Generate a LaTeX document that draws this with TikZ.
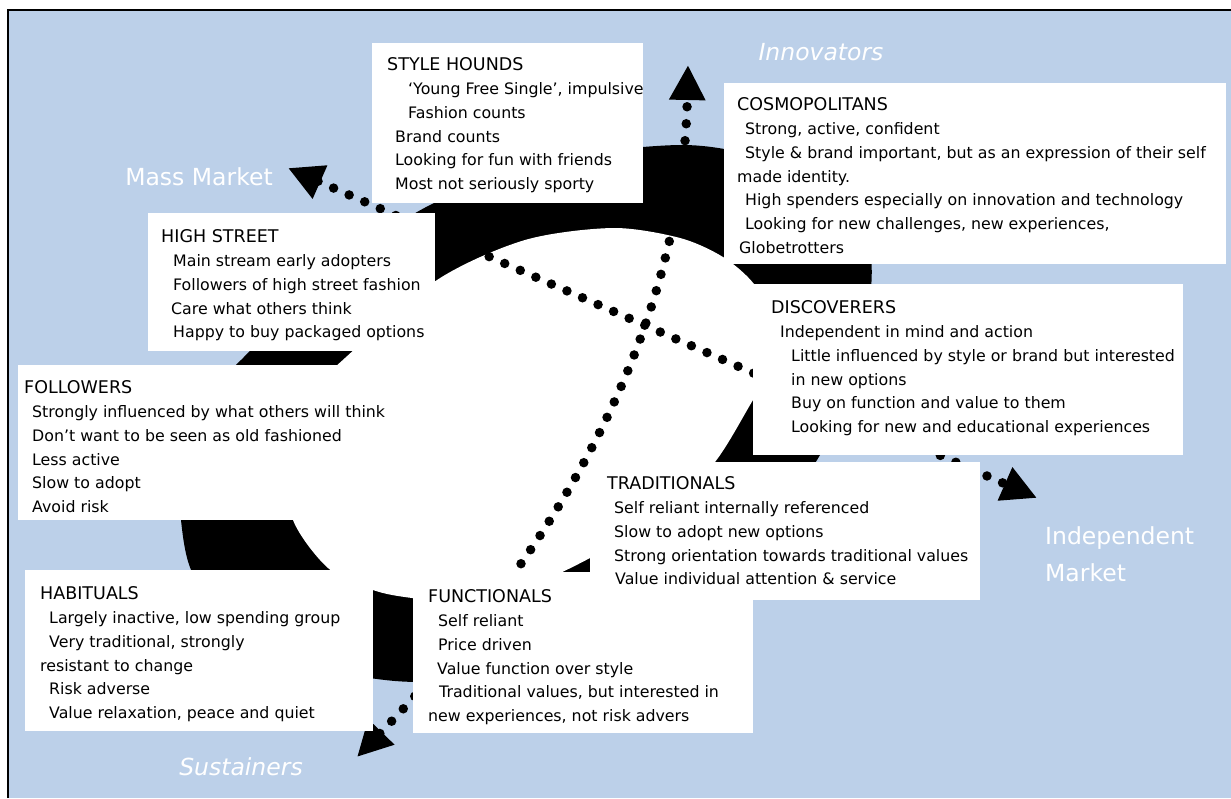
\documentclass[tikz,border=0pt]{standalone}
\usepackage{fontspec}
\setmainfont{DejaVu Sans}
\usetikzlibrary{positioning,arrows.meta,fit}
\definecolor{sky}{RGB}{188,208,233}
\newcommand\grouptitle[1]{{\fontsize{17.5}{23.8}\selectfont #1}}

\begin{document}
\begin{tikzpicture}[
    x=1pt, y=-1pt,
    panel/.style={fill=white, inner sep=0pt},
    txt/.style={anchor=north west, inner sep=0pt, align=left, font=\fontsize{15.8}{23.8}\selectfont},
    mkt/.style={text=white, inner sep=0pt, align=left, font=\fontsize{23.5}{37}\selectfont},
    dotline/.style={line width=9.5pt, line cap=round, dash pattern=on 0pt off 17pt},
    twotips/.style={{Triangle[length=35pt,width=34pt]}-{Triangle[length=35pt,width=34pt]}}
  ]
    \useasboundingbox (0,0) rectangle (1231,798);
    \fill[white] (0,0) rectangle (1231,798);
    \fill[sky] (8,10) rectangle (1231,798);
    \draw[line width=1.5pt] (8,798) -- (8,10) -- (1231,10);

    % crescent
    \fill[black] plot[smooth cycle] coordinates {(680,145) (760,158) (830,195) (868,245) (870,300) (855,370) (820,455) (760,535) (680,600) (580,652) (480,678) (395,681) (300,663) (230,622) (192,572) (181,520) (180,460) (198,405) (243,358) (330,272) (430,205) (550,160)};
    \fill[white] plot[smooth cycle] coordinates {(613,228) (680,238) (723,257) (754,284) (776,325) (775,365) (753,400) (715,462) (660,518) (590,558) (540,582) (480,604) (412,598) (373,590) (328,568) (293,520) (287,460) (305,400) (345,358) (437,280) (525,240)};

    \coordinate (massend) at (288,168);
    \coordinate (independ) at (1037,498);
    \coordinate (innoend) at (688,65);
    \coordinate (susend) at (357,757);
    \draw[dotline, twotips] (massend) -- (independ);
    \draw[dotline, twotips] (susend) .. controls (588,519) and (683,300) .. (innoend);

    \node[panel, fit={(372,43) (643,203)}] (hounds) {};
    \node[panel, fit={(724,83) (1226,264)}] (cosmo) {};
    \node[panel, fit={(148,213) (435,351)}] (highst) {};
    \node[panel, fit={(753,284) (1183,455)}] (discov) {};
    \node[panel, fit={(18,365) (440,520)}] (follow) {};
    \node[panel, fit={(590,462) (980,600)}] (tradit) {};
    \node[panel, fit={(25,570) (373,731)}] (habit) {};
    \node[panel, fit={(413,572) (753,733)}] (funct) {};

    \node[txt] (houndstxt) at (387,57.6) {\grouptitle{STYLE HOUNDS}\\
      \hspace*{21pt}‘Young Free Single’, impulsive\\
      \hspace*{21pt}Fashion counts\\
      \hspace*{8pt}Brand counts\\
      \hspace*{8pt}Looking for fun with friends\\
      \hspace*{8pt}Most not seriously sporty};
    \node[txt] (cosmotxt) at (737,97.6) {\grouptitle{COSMOPOLITANS}\\
      \hspace*{8pt}Strong, active, confident\\
      \hspace*{8pt}Style \& brand important, but as an expression of their self\\
      made identity.\\
      \hspace*{8pt}High spenders especially on innovation and technology\\
      \hspace*{8pt}Looking for new challenges, new experiences,\\
      \hspace*{2pt}Globetrotters};
    \node[txt] (highsttxt) at (161,229.6) {\grouptitle{HIGH STREET}\\
      \hspace*{12pt}Main stream early adopters\\
      \hspace*{12pt}Followers of high street fashion\\
      \hspace*{10pt}Care what others think\\
      \hspace*{12pt}Happy to buy packaged options};
    \node[txt] (discovtxt) at (771,300.6) {\grouptitle{DISCOVERERS}\\
      \hspace*{9pt}Independent in mind and action\\
      \hspace*{20pt}Little influenced by style or brand but interested\\
      \hspace*{20pt}in new options\\
      \hspace*{20pt}Buy on function and value to them\\
      \hspace*{20pt}Looking for new and educational experiences};
    \node[txt] (followtxt) at (24,380.6) {\grouptitle{FOLLOWERS}\\
      \hspace*{8pt}Strongly influenced by what others will think\\
      \hspace*{8pt}Don’t want to be seen as old fashioned\\
      \hspace*{8pt}Less active\\
      \hspace*{8pt}Slow to adopt\\
      \hspace*{8pt}Avoid risk};
    \node[txt] (tradittxt) at (607,476.6) {\grouptitle{TRADITIONALS}\\
      \hspace*{7pt}Self reliant internally referenced\\
      \hspace*{7pt}Slow to adopt new options\\
      \hspace*{7pt}Strong orientation towards traditional values\\
      \hspace*{8pt}Value individual attention \& service};
    \node[txt] (habittxt) at (40,586.6) {\grouptitle{HABITUALS}\\
      \hspace*{9pt}Largely inactive, low spending group\\
      \hspace*{9pt}Very traditional, strongly\\
      resistant to change\\
      \hspace*{9pt}Risk adverse\\
      \hspace*{9pt}Value relaxation, peace and quiet};
    \node[txt] (functtxt) at (428,589.6) {\grouptitle{FUNCTIONALS}\\
      \hspace*{10pt}Self reliant\\
      \hspace*{10pt}Price driven\\
      \hspace*{9pt}Value function over style\\
      \hspace*{11pt}Traditional values, but interested in\\
      new experiences, not risk advers};

    \node[mkt, font=\fontsize{23.5}{37}\selectfont\itshape] (inno) at (821,52) {Innovators};
    \node[mkt] (mass) at (199,177) {Mass Market};
    \node[mkt, anchor=north west] (indep) at (1045,526.4) {Independent\\Market};
    \node[mkt, font=\fontsize{23.5}{37}\selectfont\itshape] (sus) at (241,767) {Sustainers};
  \end{tikzpicture}
\end{document}
